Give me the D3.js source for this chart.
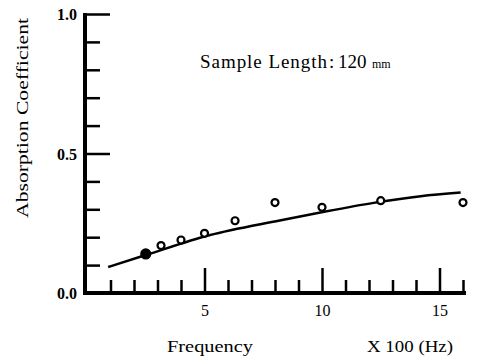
<!DOCTYPE html>
<html>
<head>
<meta charset="utf-8">
<script src="https://cdn.jsdelivr.net/npm/d3@7"></script>
<style>
  body { margin: 0; background: #fff; }
  text { font-family: "Liberation Serif", "DejaVu Serif", serif; fill: #000; }
</style>
</head>
<body>
<svg id="graph"></svg>
<script>
// measured points (frequency in x100 Hz)
let freqs = [2.5, 3.15, 4, 5, 6.3, 8, 10, 12.5, 16]
let absorb = [0.14, 0.17, 0.19, 0.214, 0.259, 0.324, 0.307, 0.331, 0.324]
let filled = [true, false, false, false, false, false, false, false, false]

// calculated curve
let curveFreqs = [0.9, 2.5, 5.2, 8.2, 10.2, 12.2, 14.2, 15.9]
let curveVals = [0.093, 0.136, 0.207, 0.26, 0.293, 0.323, 0.347, 0.36]

let xTicks = d3.range(1, 17)
let xMajor = [5, 10, 15]
let yTicks = [0.1, 0.2, 0.3, 0.4, 0.6, 0.7, 0.8, 0.9]
let yMajor = [0.0, 0.5, 1.0]

let w = 477
let h = 362

let xscale = d3.scaleLinear().domain([0, 16]).range([87, 463])
let yscale = d3.scaleLinear().domain([0, 1]).range([293, 14])

let graph = d3.select("#graph")
    .attr("width", w)
    .attr("height", h)

// minor y ticks
graph.append("g")
    .attr("transform", "translate(85,0)")
    .call(d3.axisLeft(yscale).tickValues(yTicks).tickSize(-15).tickFormat(""))
    .call(g => g.select(".domain").remove())
    .call(g => g.selectAll("line").attr("stroke-width", 2.5))

// major y ticks with labels
graph.append("g")
    .attr("transform", "translate(85,0)")
    .call(d3.axisLeft(yscale).tickValues(yMajor).tickSize(-25).tickPadding(8).tickFormat(d3.format(".1f")))
    .call(g => g.select(".domain").remove())
    .call(g => g.selectAll("line").attr("stroke-width", 2.5))
    .call(g => g.selectAll("text")
        .style("font-size", "16px")
        .style("font-weight", "bold")
        .style("font-family", "'Liberation Serif', serif")
        .attr("dy", "0.35em"))

// x ticks
graph.append("g")
    .attr("transform", "translate(0,293)")
    .call(d3.axisBottom(xscale).tickValues(xTicks.filter(d => !xMajor.includes(d))).tickSize(-13).tickFormat(""))
    .call(g => g.select(".domain").remove())
    .call(g => g.selectAll("line").attr("stroke-width", 2.5))

graph.append("g")
    .attr("transform", "translate(0,293)")
    .call(d3.axisBottom(xscale).tickValues(xMajor).tickSize(-25).tickPadding(12).tickFormat(d3.format("d")))
    .call(g => g.select(".domain").remove())
    .call(g => g.selectAll("line").attr("stroke-width", 2.5))
    .call(g => g.selectAll("text")
        .style("font-size", "16px")
        .style("font-family", "'Liberation Serif', serif"))

// thick axis lines
graph.append("line")
    .attr("x1", 85).attr("y1", 13).attr("x2", 85).attr("y2", 295)
    .attr("stroke", "#000").attr("stroke-width", 4)
graph.append("line")
    .attr("x1", 83).attr("y1", 293).attr("x2", 466).attr("y2", 293)
    .attr("stroke", "#000").attr("stroke-width", 4)

// curve
let line = d3.line()
    .x(d => xscale(d[0]))
    .y(d => yscale(d[1]))
    .curve(d3.curveMonotoneX)

graph.append("path")
    .datum(curveFreqs.map((f, i) => [f, curveVals[i]]))
    .attr("d", line)
    .attr("fill", "none")
    .attr("stroke", "#000")
    .attr("stroke-width", 2.5)

// points
graph.selectAll(".pt")
    .data(freqs.map((f, i) => ({f: f, a: absorb[i], fill: filled[i]})))
    .enter().append("circle")
    .attr("class", "pt")
    .attr("cx", d => xscale(d.f))
    .attr("cy", d => yscale(d.a))
    .attr("r", d => d.fill ? 4.5 : 3.5)
    .attr("fill", d => d.fill ? "#000" : "#fff")
    .attr("stroke", "#000")
    .attr("stroke-width", 2.2)

// labels
graph.append("text")
    .text("Absorption Coefficient")
    .attr("transform", "translate(28,118) rotate(-90)")
    .attr("text-anchor", "middle")
    .attr("textLength", 200)
    .attr("lengthAdjust", "spacingAndGlyphs")
    .style("font-size", "16px")

graph.append("text")
    .text("Frequency")
    .attr("x", 210)
    .attr("y", 352)
    .attr("text-anchor", "middle")
    .attr("textLength", 86)
    .attr("lengthAdjust", "spacingAndGlyphs")
    .style("font-size", "16px")

graph.append("text")
    .text("X 100 (Hz)")
    .attr("x", 410)
    .attr("y", 352)
    .attr("text-anchor", "middle")
    .attr("textLength", 86)
    .attr("lengthAdjust", "spacingAndGlyphs")
    .style("font-size", "16px")

let title = graph.append("text")
    .attr("y", 68)
    .style("font-size", "19px")
title.append("tspan").attr("x", 200).text("Sample Length")
    .attr("textLength", 127).attr("lengthAdjust", "spacing")
title.append("tspan").attr("x", 329).text(":")
title.append("tspan").attr("x", 338).text("120")
title.append("tspan").attr("x", 372).text("mm").style("font-size", "12px")
</script>
</body>
</html>
